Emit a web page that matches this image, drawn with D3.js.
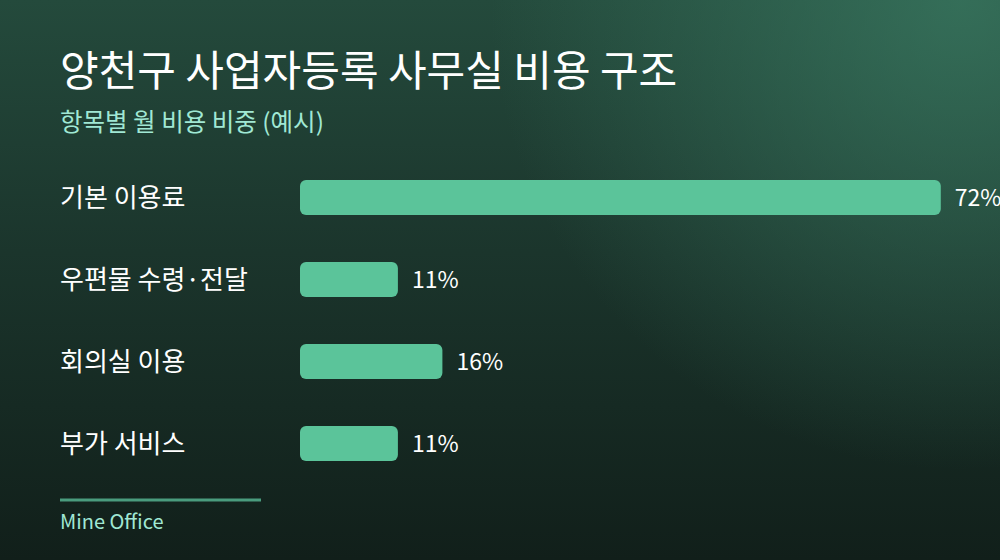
<!DOCTYPE html>
<html>
<head>
<meta charset="utf-8">
<script src="https://cdn.jsdelivr.net/npm/d3@7"></script>
<style>
  html, body { margin: 0; padding: 0; background: #14241f; }
  svg { display: block; }
</style>
</head>
<body>
<svg id="chart" width="1000" height="560"></svg>
<script>
// data
var categories = ["기본 이용료", "우편물 수령·전달", "회의실 이용", "부가 서비스"];
var shares = [72, 11, 16, 11];
var titleText = "양천구 사업자등록 사무실 비용 구조";
var subtitleText = "항목별 월 비용 비중 (예시)";
var sourceText = "Mine Office";

var W = 1000, H = 560;
var font = "'Noto Sans CJK KR', 'Noto Sans', sans-serif";
var svg = d3.select("#chart");

// background
var defs = svg.append("defs");
var lin = defs.append("linearGradient").attr("id", "bg").attr("x1", 0).attr("y1", 0).attr("x2", 0).attr("y2", 1);
lin.append("stop").attr("offset", "0%").attr("stop-color", "#244a3c");
lin.append("stop").attr("offset", "45%").attr("stop-color", "#1b352c");
lin.append("stop").attr("offset", "100%").attr("stop-color", "#111f1a");
var rad = defs.append("radialGradient").attr("id", "glow")
  .attr("gradientUnits", "userSpaceOnUse")
  .attr("cx", 960).attr("cy", 0).attr("r", 470);
rad.append("stop").attr("offset", "0%").attr("stop-color", "#3a7a62").attr("stop-opacity", 0.75);
rad.append("stop").attr("offset", "100%").attr("stop-color", "#3a7a62").attr("stop-opacity", 0);

svg.append("rect").attr("width", W).attr("height", H).attr("fill", "url(#bg)");
svg.append("rect").attr("width", W).attr("height", H).attr("fill", "url(#glow)");

// titles
svg.append("text").attr("x", 60).attr("y", 86)
  .attr("font-family", font).attr("font-size", 42).attr("font-weight", 400)
  .attr("fill", "#ffffff").text(titleText);
svg.append("text").attr("x", 60).attr("y", 131)
  .attr("font-family", font).attr("font-size", 24.5)
  .attr("fill", "#a0e8d4").text(subtitleText);

// scales
var x = d3.scaleLinear().domain([0, 100]).range([300, 1190]);
var y = d3.scaleBand().domain(categories).range([180, 461]).paddingInner(47 / 82).paddingOuter(0);

var rows = svg.append("g").selectAll("g").data(categories).enter().append("g");

rows.append("text")
  .attr("x", 60)
  .attr("y", function(d) { return y(d) + y.bandwidth() / 2; })
  .attr("dy", "0.36em")
  .attr("font-family", font).attr("font-size", 26)
  .attr("fill", "#ffffff")
  .text(function(d) { return d; });

rows.append("rect")
  .attr("x", x(0))
  .attr("y", function(d) { return y(d); })
  .attr("width", function(d, i) { return x(shares[i]) - x(0); })
  .attr("height", y.bandwidth())
  .attr("rx", 6).attr("ry", 6)
  .attr("fill", "#5bc49a");

rows.append("text")
  .attr("x", function(d, i) { return x(shares[i]) + 14; })
  .attr("y", function(d) { return y(d) + y.bandwidth() / 2; })
  .attr("dy", "0.36em")
  .attr("font-family", font).attr("font-size", 23)
  .attr("fill", "#ffffff")
  .text(function(d, i) { return shares[i] + "%"; });

// footer
svg.append("line").attr("x1", 60).attr("x2", 261).attr("y1", 500).attr("y2", 500)
  .attr("stroke", "#4a9c7e").attr("stroke-width", 3);
svg.append("text").attr("x", 60).attr("y", 529)
  .attr("font-family", font).attr("font-size", 20)
  .attr("fill", "#a0e8d4").text(sourceText);
</script>
</body>
</html>
